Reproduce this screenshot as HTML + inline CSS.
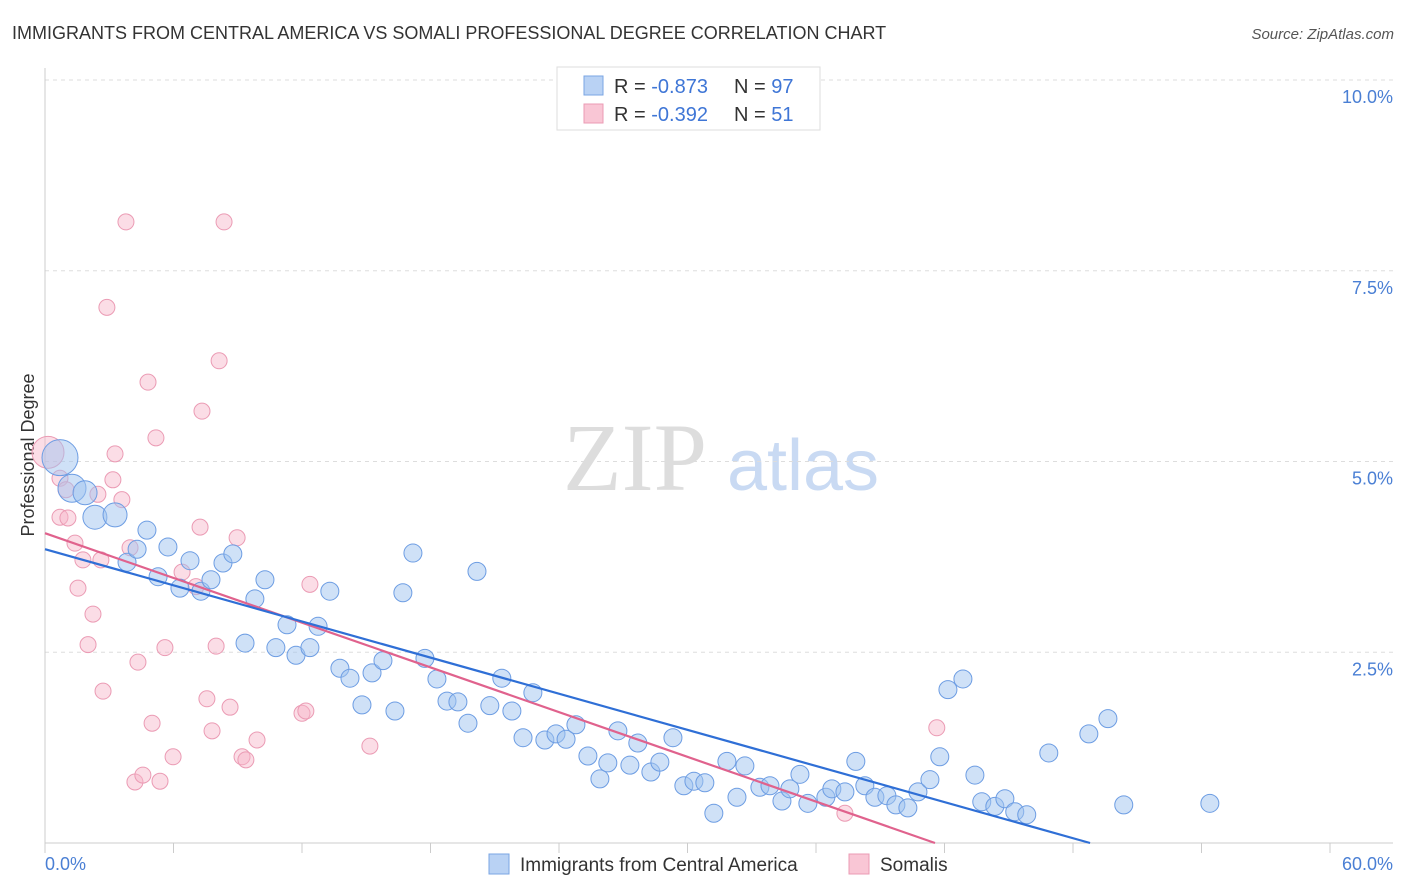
<!DOCTYPE html>
<html><head><meta charset="utf-8"><style>
body{margin:0;background:#fff;font-family:"Liberation Sans",sans-serif;}
svg{display:block}
</style></head><body>
<svg id="chart" width="1406" height="892">
<text x="12" y="39" font-size="18" fill="#333">IMMIGRANTS FROM CENTRAL AMERICA VS SOMALI PROFESSIONAL DEGREE CORRELATION CHART</text>
<text x="1394" y="39" font-size="15" fill="#555" font-style="italic" text-anchor="end">Source: ZipAtlas.com</text>
<g>
<text x="635" y="490" font-size="96" fill="#ddd" font-family="Liberation Serif,serif" text-anchor="middle">ZIP</text>
<text x="803" y="490" font-size="72" fill="#c9daf3" text-anchor="middle">atlas</text>
</g>
<text transform="translate(34,455) rotate(-90)" font-size="18" fill="#333" text-anchor="middle">Professional Degree</text>
<g id="grid"></g><g id="pts"></g><g id="lines"></g>
<g>
<rect x="557" y="67" width="263" height="63" fill="#fff" stroke="#ddd"/>
<rect x="584" y="76" width="19" height="19" fill="#b9d2f4" stroke="#7aa5e3"/>
<rect x="584" y="104" width="19" height="19" fill="#f9c6d5" stroke="#eb9bb4"/>
<text x="614" y="93" font-size="20" fill="#333">R = <tspan fill="#3f76d6">-0.873</tspan><tspan x="734">N = </tspan><tspan fill="#3f76d6">97</tspan></text>
<text x="614" y="121" font-size="20" fill="#333">R = <tspan fill="#3f76d6">-0.392</tspan><tspan x="734">N = </tspan><tspan fill="#3f76d6"> 51</tspan></text>
</g>
<g>
<rect x="489" y="854" width="20" height="20" fill="#b9d2f4" stroke="#7aa5e3"/>
<text x="520" y="871" font-size="19" fill="#333">Immigrants from Central America</text>
<rect x="849" y="854" width="20" height="20" fill="#f9c6d5" stroke="#eb9bb4"/>
<text x="880" y="871" font-size="19" fill="#333">Somalis</text>
</g>
</svg>
<script>
const yTicks=[2.5,5.0,7.5,10.0];
const xTickVals=[0,6,12,18,24,30,36,42,48,54,60];
const blueX=[0.7,1.26,1.87,2.33,3.27,3.83,4.30,4.76,5.28,5.74,6.30,6.77,7.28,7.75,8.31,8.77,9.80,10.27,9.34,10.78,11.30,11.72,12.37,12.75,13.30,13.77,14.24,14.80,15.27,15.78,16.34,16.71,17.18,17.74,18.30,18.77,19.28,19.75,20.17,20.77,21.33,21.80,22.32,22.78,23.34,23.86,24.33,24.79,25.35,25.91,26.28,26.75,27.31,27.68,28.29,28.71,29.32,29.83,30.30,30.81,31.23,31.84,32.31,32.68,33.38,33.85,34.41,34.78,35.25,35.62,36.46,36.74,37.35,37.86,38.28,38.75,39.31,39.73,40.29,40.76,41.32,41.78,42.16,42.86,43.42,43.74,44.35,44.82,45.28,45.84,46.87,48.74,49.63,50.37,54.39];
const blueY=[5.05,4.65,4.59,4.27,4.30,3.68,3.85,4.10,3.49,3.88,3.34,3.70,3.30,3.45,3.67,3.79,3.20,3.45,2.62,2.56,2.86,2.46,2.56,2.84,3.30,2.29,2.16,1.81,2.23,2.39,1.73,3.28,3.80,2.42,2.15,1.86,1.85,1.57,3.56,1.80,2.16,1.73,1.38,1.97,1.35,1.43,1.36,1.55,1.14,0.84,1.05,1.47,1.02,1.31,0.93,1.06,1.38,0.75,0.81,0.79,0.39,1.07,0.60,1.01,0.73,0.75,0.55,0.71,0.90,0.52,0.60,0.71,0.67,1.07,0.75,0.60,0.62,0.50,0.46,0.67,0.83,1.13,2.01,2.15,0.89,0.54,0.48,0.58,0.41,0.37,1.18,1.43,1.63,0.50,0.52];
const blueSize=[18,14,12,12,12];
const pinkX=[0.14,0.70,0.98,0.70,1.07,1.40,1.54,1.77,2.01,2.24,2.47,2.61,2.71,2.89,3.17,3.27,3.59,3.78,3.97,4.20,4.34,4.57,4.81,5.00,5.18,5.37,5.60,5.98,6.40,7.05,7.24,7.33,7.56,7.80,7.99,8.13,8.36,8.64,8.97,9.20,9.38,9.90,12.0,12.18,12.37,15.17,41.64,37.35];
const pinkY=[5.12,4.78,4.63,4.27,4.26,3.93,3.34,3.71,2.60,3.00,4.57,3.71,1.99,7.02,4.76,5.10,4.50,8.14,3.87,0.80,2.37,0.89,6.04,1.57,5.31,0.81,2.56,1.13,3.55,3.36,4.14,5.66,1.89,1.47,2.58,6.32,8.14,1.78,4.00,1.13,1.09,1.35,1.70,1.73,3.39,1.27,1.51,0.39];
const blueTrend=[3.85,-0.0789];
const pinkTrend=[4.06,-0.0977];
const X0=45,X1=1330,Y0=843,Y1=80;
const sx=v=>X0+(X1-X0)*v/60;
const sy=v=>Y0-(Y0-Y1)*v/10;
const NS="http://www.w3.org/2000/svg";
function mk(tag,attrs,parent){const e=document.createElementNS(NS,tag);for(const k in attrs)e.setAttribute(k,attrs[k]);parent.appendChild(e);return e;}
const grid=document.getElementById('grid');
yTicks.forEach(t=>{
 const l=mk('line',{x1:X0,x2:1393,y1:sy(t),y2:sy(t),stroke:'#ddd','stroke-dasharray':'4,4'},grid);
 
 
 const tx=mk('text',{x:1393,y:sy(t)+23,'font-size':18,fill:'#4a7fd4','text-anchor':'end'},grid);
 tx.textContent=t.toFixed(1)+'%';
 
 
});
const ax=mk('line',{x1:X0,x2:X0,y1:68,y2:Y0,stroke:'#ccc'},grid);


const bx=mk('line',{x1:X0,x2:1393,y1:Y0,y2:Y0,stroke:'#ccc'},grid);


xTickVals.forEach(v=>{
 const t=mk('line',{x1:sx(v),x2:sx(v),y1:Y0,y2:Y0+10,stroke:'#ccc'},grid);
 
 
});
const xl=mk('text',{x:X0,y:870,'font-size':18,fill:'#4a7fd4'},grid);xl.textContent='0.0%';


const xr=mk('text',{x:1393,y:870,'font-size':18,fill:'#4a7fd4','text-anchor':'end'},grid);xr.textContent='60.0%';


const pts=document.getElementById('pts');
pinkX.forEach((v,i)=>{
 const c=mk('circle',{cx:sx(v),cy:sy(pinkY[i]),r:i==0?16:8,fill:'rgba(246,180,200,0.45)',stroke:'#eb9bb4','stroke-width':1},pts);
 
 
});
blueX.forEach((v,i)=>{
 const c=mk('circle',{cx:sx(v),cy:sy(blueY[i]),r:blueSize[i]||9,fill:'rgba(160,195,240,0.5)',stroke:'#6d9de3','stroke-width':1},pts);
 
 
});
const lines=document.getElementById('lines');
function trend(p,color,name){
 const xe=Math.min(60,-p[0]/p[1]);
 const l=mk('line',{x1:sx(0),y1:sy(p[0]),x2:sx(xe),y2:sy(p[0]+p[1]*xe),stroke:color,'stroke-width':2.2},lines);
 
 
}
trend(pinkTrend,'#e0628d','somali-trend-line');
trend(blueTrend,'#2f6fd6','central-america-trend-line');
</script>
</body></html>
